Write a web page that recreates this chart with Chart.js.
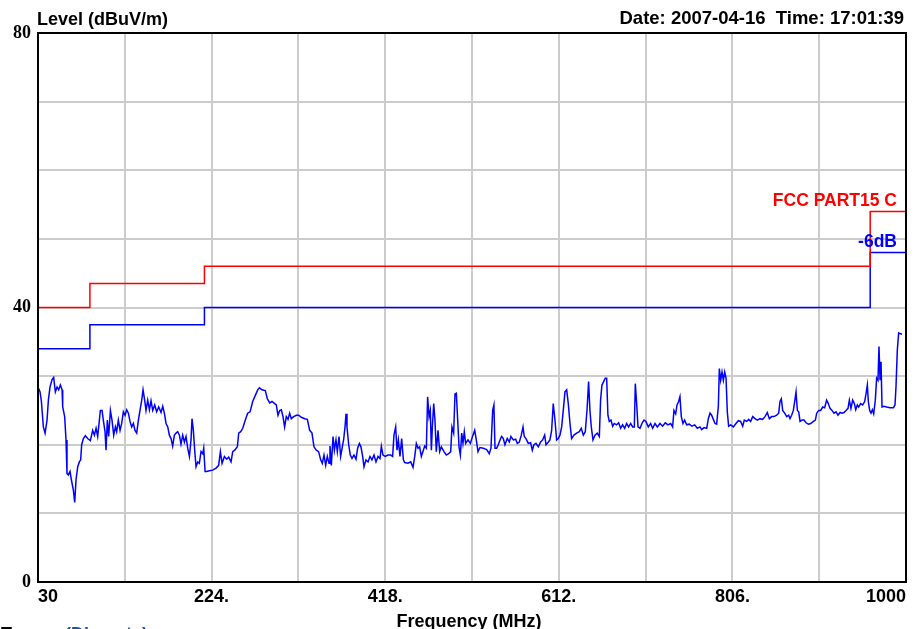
<!DOCTYPE html>
<html>
<head>
<meta charset="utf-8">
<title>Level (dBuV/m)</title>
<script src="https://cdn.jsdelivr.net/npm/chart.js@4/dist/chart.umd.min.js"></script>
<style>
  html, body { margin: 0; padding: 0; background: #fff; }
  #wrap { width: 919px; height: 629px; overflow: hidden; }
</style>
</head>
<body>
<div id="wrap"><canvas id="emiChart" width="919" height="629"></canvas></div>
<script>
/* ---------- DATA ---------- */
const xTicks      = [30, 127, 224, 321, 418, 515, 612, 709, 806, 903, 1000];
const xTickLabels = ["30", "", "224.", "", "418.", "", "612.", "", "806.", "", "1000"];
const yTicks      = [0, 10, 20, 30, 40, 50, 60, 70, 80];
const yTickLabels = ["0", "", "", "", "40", "", "", "", "80"];

// FCC Part 15 C limit and the -6 dB margin line (step edges in MHz)
const limitFreq   = [30, 88, 216, 960, 1000];
const limitLevel  = [40, 43.5, 46, 54, 54];
const marginLevel = [34, 37.5, 40, 48, 48];

const traceFreq = [
  30.8, 32.3, 33.8, 36.0, 37.9, 40.1, 41.6, 43.4, 45.7, 47.5, 49.4, 51.3, 53.1, 55.0, 56.9, 57.6,
  59.8, 61.3, 62.4, 63.9, 65.8, 67.3, 69.5, 71.0, 72.5, 74.4, 76.2, 77.7, 78.8, 80.7, 82.9, 85.5,
  88.5, 91.1, 93.0, 94.9, 96.7, 97.8, 99.7, 101.6, 103.0, 104.9, 106.0, 107.5, 109.0, 110.9, 112.7, 114.6,
  116.5, 117.9, 119.8, 121.7, 123.5, 125.4, 127.3, 129.1, 131.0, 132.8, 134.7, 136.6, 138.4, 140.3, 142.2, 144.0,
  145.9, 147.4, 149.2, 150.7, 152.6, 154.5, 156.3, 158.2, 160.4, 162.6, 164.9, 167.5, 169.4, 171.2, 173.1, 175.0,
  176.8, 178.7, 180.5, 182.4, 184.3, 186.1, 188.0, 189.8, 191.7, 193.6, 195.4, 197.3, 199.2, 201.0, 202.1, 203.6,
  205.1, 206.6, 208.5, 210.3, 212.2, 214.1, 215.2, 216.7, 218.5, 221.5, 225.2, 229.0, 231.9, 233.8, 235.7, 238.3,
  240.9, 243.1, 245.7, 247.6, 249.8, 252.8, 254.3, 256.5, 258.8, 261.7, 264.3, 267.0, 269.9, 272.9, 275.5, 277.4,
  280.3, 284.0, 286.3, 288.9, 291.5, 294.5, 296.3, 298.2, 300.1, 301.9, 303.8, 305.6, 307.5, 309.4, 311.2, 313.1,
  315.7, 318.7, 321.3, 324.3, 328.0, 331.0, 333.6, 336.2, 338.4, 341.0, 343.6, 345.9, 347.7, 349.6, 351.5, 353.3,
  355.2, 356.3, 357.8, 359.7, 361.2, 363.0, 364.5, 366.4, 368.2, 370.1, 371.6, 373.1, 374.2, 375.3, 377.2, 379.0,
  380.9, 383.1, 385.4, 387.2, 389.1, 390.9, 392.8, 394.3, 396.5, 398.8, 401.0, 403.2, 405.5, 407.7, 410.0, 412.2,
  413.7, 415.5, 418.1, 421.1, 424.1, 426.3, 427.8, 429.7, 431.2, 432.7, 434.5, 436.4, 438.3, 439.8, 443.5, 446.5,
  449.1, 451.0, 452.8, 454.7, 456.5, 458.4, 460.2, 462.1, 464.0, 465.4, 467.0, 468.4, 469.6, 470.7, 472.2, 473.6,
  475.1, 477.0, 478.9, 480.7, 483.7, 486.3, 488.9, 491.2, 492.6, 494.5, 496.0, 497.5, 499.0, 500.5, 502.0, 503.5,
  504.9, 506.4, 507.9, 510.5, 513.1, 516.1, 518.0, 519.8, 521.7,
  523.9, 527.6, 531.4, 534.3, 536.2, 538.1, 539.5, 540.7, 542.5, 544.4, 546.3, 548.1, 550.0, 551.8, 554.4, 556.7,
  558.5, 561.2, 563.8, 565.6, 567.9, 570.1, 572.0, 573.4, 575.3, 577.9, 580.5, 582.4, 584.2, 586.5, 589.1, 591.7,
  593.9, 596.2, 597.7, 600.3, 602.1, 604.0, 605.8, 607.7, 609.6, 611.4, 613.3, 615.2, 617.0, 618.9, 620.8, 622.6,
  624.5, 626.3, 628.9, 631.9, 634.9, 637.1, 639.4, 641.6, 643.5, 645.3, 646.8, 648.3, 650.2, 652.4, 655.0, 657.3,
  658.7, 660.2, 662.1, 663.9, 665.5, 666.9, 668.4, 670.3, 672.2, 674.0, 676.6, 678.9, 681.1, 683.3, 685.6, 687.8,
  690.0, 692.3, 694.5, 696.4, 697.5, 699.0, 700.5, 702.7, 704.9, 707.2, 709.4, 712.0, 714.6, 716.9, 719.5, 722.1,
  725.1, 728.0, 731.0, 734.0, 737.0, 739.2, 740.7, 742.6, 744.1, 745.9, 747.4, 748.9, 750.8, 752.6, 754.9, 757.8,
  760.8, 763.8, 766.8,
  769.8, 771.7, 774.3, 777.3, 779.1, 781.0, 782.8, 784.7, 786.6, 788.4, 790.3, 791.4, 792.9, 794.4, 795.9, 797.4,
  798.9, 800.3, 801.8, 804.1, 807.1, 810.0, 812.6, 815.2, 817.5, 819.3, 822.0, 824.2, 826.4, 828.7, 831.3, 833.9,
  836.9, 839.8, 842.4, 845.0, 847.3, 849.9, 852.5, 855.5, 857.7, 859.2, 860.7, 862.2, 864.4, 866.7, 868.9, 870.4,
  872.2, 874.1, 875.6, 877.1, 878.6, 880.1, 881.6, 883.8, 886.0, 888.3, 890.9, 893.5, 896.5, 898.7, 900.2, 902.4,
  904.6, 906.9, 909.1, 911.3, 913.2, 915.1, 917.3, 919.5, 921.8, 924.0, 926.3, 928.5, 930.7, 933.0, 935.2, 936.7,
  938.5, 940.4, 942.3, 943.8, 945.6, 947.1, 949.3, 951.6, 953.8, 955.3, 956.8, 957.9, 959.4, 960.9, 962.4, 963.9,
  965.7, 967.2, 968.7, 969.8, 971.0, 972.1, 973.2, 975.4, 978.4, 982.1, 985.9, 987.7, 988.8, 990.3, 991.8, 993.3,
  995.5
];
const traceLevel = [
  28.2, 27.7, 26.3, 22.6, 21.7, 23.6, 26.5, 28.4, 29.5, 29.8, 27.7, 28.4, 28.0, 28.7, 28.0, 25.5,
  24.1, 20.7, 15.8, 15.6, 16.1, 14.9, 13.4, 11.6, 14.9, 16.8, 17.5, 17.8, 20.0, 20.9, 21.3, 20.9,
  20.6, 22.1, 21.4, 22.4, 21.2, 22.6, 25.0, 25.0, 23.6, 21.9, 19.2, 23.6, 21.2, 25.0, 23.6, 21.4,
  22.6, 21.9, 23.6, 22.1, 23.1, 24.8, 24.3, 25.1, 24.6, 23.4, 22.6, 23.1, 22.1, 21.7, 23.6, 25.0,
  26.5, 28.0, 26.5, 25.0, 26.5, 25.1, 26.4, 25.0, 25.8, 24.8, 25.5, 24.7, 25.6, 24.6, 23.1, 22.6,
  21.4, 20.9, 19.8, 21.4, 21.7, 21.9, 21.4, 20.1, 21.4, 20.4, 21.2, 19.5, 18.3, 20.7, 23.8, 22.1,
  19.2, 16.8, 17.5, 17.3, 19.0, 18.7, 19.5, 16.1, 16.1, 16.2, 16.3, 16.6, 17.0, 19.0, 17.3, 18.3,
  17.9, 18.2, 17.5, 19.0, 19.2, 19.7, 21.7, 21.9, 22.4, 23.6, 24.6, 24.8, 26.3, 27.2, 28.0, 28.3,
  28.0, 27.9, 26.7, 26.1, 26.3, 26.0, 25.8, 24.3, 25.0, 25.1, 24.1, 22.6, 24.1, 23.7, 24.6, 23.8,
  24.1, 24.3, 24.3, 24.0, 23.8, 23.7, 22.1, 21.7, 19.7, 19.2, 19.0, 17.8, 17.3, 18.5, 17.0, 18.3,
  17.3, 19.8, 17.0, 21.2, 19.2, 20.7, 19.0, 21.2, 18.3, 19.7, 20.8, 22.6, 24.5, 22.6, 20.0, 18.5,
  18.0, 18.5, 17.9, 19.5, 20.2, 19.7, 18.3, 16.8, 17.8, 17.5, 18.3, 17.8, 18.5, 17.5, 18.3, 18.0,
  19.8, 18.5, 18.3, 18.5, 18.5, 18.3, 21.4, 22.6, 19.2, 20.7, 18.3, 20.9, 17.8, 17.4, 17.3, 17.5,
  16.7, 18.3, 20.2, 19.5, 19.7, 18.3, 19.0, 19.8, 19.5, 27.0, 24.1, 25.0, 19.2, 22.6, 26.0, 23.6,
  19.0, 22.1, 19.0, 19.7, 19.0, 18.5, 18.7, 19.0, 22.6, 21.7, 27.4, 27.5, 23.6, 19.7, 18.5, 21.7,
  20.2, 21.9, 20.2, 20.7, 20.2, 21.4, 22.1, 20.7, 19.0,
  19.6, 19.5, 19.3, 18.7, 19.5, 25.0, 25.8, 19.5, 19.5, 20.0, 20.7, 21.2, 20.9, 20.0, 20.9, 20.4,
  21.2, 20.7, 20.8, 20.2, 20.4, 21.4, 22.6, 21.2, 20.9, 20.2, 20.3, 19.2, 20.0, 20.2, 19.7, 20.4,
  20.7, 21.4, 20.0, 20.4, 20.7, 22.1, 26.0, 23.6, 20.7, 20.9, 21.4, 22.6, 25.0, 27.7, 28.0, 26.0,
  23.1, 20.9, 21.4, 21.7, 21.9, 22.4, 21.4, 21.9, 25.0, 29.2, 25.0, 22.6, 20.7, 21.4, 21.7, 21.2,
  26.5, 28.7, 29.2, 29.7, 29.7, 24.3, 23.4, 23.6, 22.7, 23.1, 22.9, 23.2, 22.4, 22.9, 22.4, 23.1,
  22.6, 23.1, 22.6, 22.6, 28.9, 26.0, 22.6, 22.4, 23.1, 23.6, 23.4, 22.6, 23.1, 22.4, 23.1, 22.6,
  23.1, 22.7, 23.2, 22.9, 23.1, 22.6, 25.0, 24.5, 25.8, 26.3, 27.0, 24.1, 23.1, 23.6, 22.9, 23.0,
  22.7, 22.9, 22.4,
  22.6, 22.2, 22.5, 22.4, 23.8, 24.6, 24.3, 23.7, 23.1, 23.0, 25.6, 31.1, 29.4, 30.6, 29.4, 30.6,
  29.7, 24.8, 22.7, 22.9, 22.6, 23.1, 23.5, 23.4, 22.7, 23.6, 23.4, 23.7, 23.4, 24.1, 23.8, 23.6,
  23.8, 23.7, 24.1, 24.7, 23.8, 24.1, 24.1, 24.3, 24.6, 26.3, 26.7, 25.0, 24.6, 24.1, 24.3, 23.8,
  24.3, 25.0, 26.3, 27.7, 25.0, 24.8, 23.4, 23.6, 23.6, 23.2, 23.0, 23.1, 23.4, 23.6, 24.6, 25.0,
  25.0, 25.5, 25.4, 26.5, 26.0, 25.3, 25.0, 24.6, 24.8, 24.3, 24.7, 24.6, 24.7, 25.0, 25.3, 26.5,
  25.3, 26.5, 26.0, 25.1, 25.8, 25.5, 26.0, 25.8, 26.3, 27.4, 28.7, 26.3, 25.0, 24.6, 25.1, 24.5,
  26.5, 29.7, 29.4, 34.3, 29.4, 32.1, 25.5, 25.6, 25.5, 25.4, 25.4, 25.8, 28.4, 33.8, 36.3, 36.2,
  36.1
];

/* ---------- STYLE ---------- */
const SANS  = '"Liberation Sans", Arial, sans-serif';
const SERIF = '"Liberation Serif", "Times New Roman", serif';

const toPoints = (xs, ys) => xs.map((x, i) => ({ x: x, y: ys[i] }));

/* frame + free text drawn on top of the chart */
const framePlugin = {
    id: "frameText",
    afterDraw(chart) {
        const ctx = chart.ctx;
        const area = chart.chartArea;
        const ys = chart.scales.y;

        ctx.save();
        ctx.strokeStyle = "#000";
        ctx.lineWidth = 2;
        ctx.strokeRect(area.left, area.top, area.right - area.left, area.bottom - area.top);

        ctx.textBaseline = "alphabetic";

        ctx.fillStyle = "#000";
        ctx.font = "bold 18px " + SANS;
        ctx.textAlign = "left";
        ctx.fillText("Level (dBuV/m)", 37, 25);

        ctx.font = "bold 18.5px " + SANS;
        ctx.textAlign = "right";
        ctx.fillText("Date: 2007-04-16  Time: 17:01:39", 904, 24);

        // limit line labels
        ctx.font = "bold 17.5px " + SANS;
        ctx.fillStyle = "#ff0000";
        ctx.fillText("FCC PART15 C", area.right - 9, ys.getPixelForValue(limitLevel[limitLevel.length - 1]) - 5);
        ctx.fillStyle = "#0000ff";
        ctx.fillText("-6dB", area.right - 9, ys.getPixelForValue(marginLevel[marginLevel.length - 1]) - 6);

        // axis title
        ctx.fillStyle = "#000";
        ctx.font = "bold 18px " + SANS;
        ctx.textAlign = "center";
        ctx.fillText("Frequency (MHz)", (area.left + area.right) / 2 - 3, 627);

        // trace caption, cut off by the bottom edge
        ctx.textAlign = "left";
        ctx.fillText("Trace:", 1, 640);
        ctx.fillStyle = "#1f4fa8";
        ctx.fillText("(Discrete)", 65, 640);
        ctx.restore();
    }
};

new Chart(document.getElementById("emiChart"), {
    type: "line",
    data: {
        datasets: [
            {
                label: "FCC PART15 C",
                data: toPoints(limitFreq, limitLevel),
                borderColor: "#ff0000",
                borderWidth: 1.5,
                stepped: true,
                pointRadius: 0
            },
            {
                label: "-6dB",
                data: toPoints(limitFreq, marginLevel),
                borderColor: "#0000ff",
                borderWidth: 1.5,
                stepped: true,
                pointRadius: 0
            },
            {
                label: "Trace",
                data: toPoints(traceFreq, traceLevel),
                borderColor: "#0000ff",
                borderWidth: 1.5,
                tension: 0,
                pointRadius: 0
            }
        ]
    },
    options: {
        responsive: false,
        animation: false,
        layout: {
            padding: { top: 33, right: 13, left: 0, bottom: 0 }
        },
        plugins: {
            legend: { display: false },
            tooltip: { enabled: false }
        },
        scales: {
            x: {
                type: "linear",
                min: 30,
                max: 1000,
                afterBuildTicks: (s) => { s.ticks = xTicks.map(v => ({ value: v })); },
                afterFit: (s) => { s.height = 47; },
                grid: { color: "#cccccc", lineWidth: 2, drawTicks: false },
                border: { display: false },
                ticks: {
                    autoSkip: false,
                    maxRotation: 0,
                    align: "inner",
                    padding: 4,
                    color: "#000",
                    font: { family: SANS, size: 18, weight: "bold" },
                    callback: (v, i) => xTickLabels[i]
                }
            },
            y: {
                min: 0,
                max: 80,
                afterBuildTicks: (s) => { s.ticks = yTicks.map(v => ({ value: v })); },
                afterFit: (s) => { s.width = 38; },
                grid: { color: "#cccccc", lineWidth: 2, drawTicks: false },
                border: { display: false },
                ticks: {
                    padding: 7,
                    color: "#000",
                    font: { family: SERIF, size: 18, weight: "bold" },
                    callback: (v, i) => yTickLabels[i]
                }
            }
        }
    },
    plugins: [framePlugin]
});
</script>
</body>
</html>
